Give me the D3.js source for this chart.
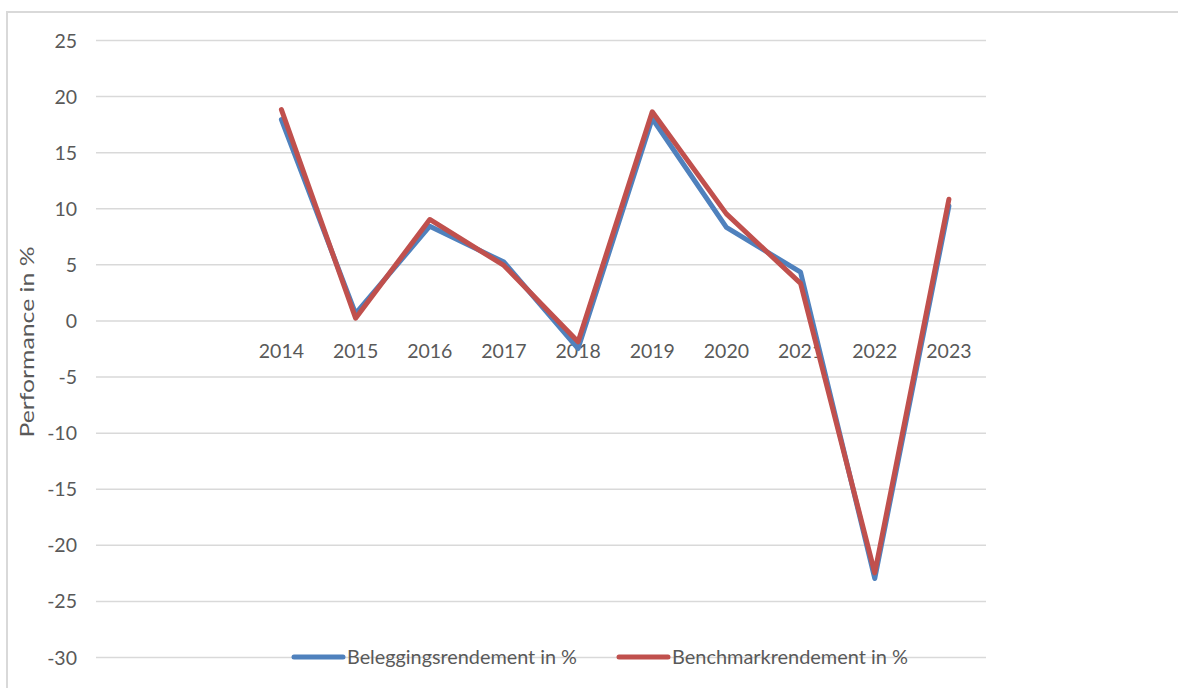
<!DOCTYPE html>
<html>
<head>
<meta charset="utf-8">
<script src="https://cdn.jsdelivr.net/npm/d3@7"></script>
<style>
  html, body { margin: 0; padding: 0; background: #fff; }
  #container { width: 1178px; height: 688px; overflow: hidden; }
  text { font-family: Lato, "Open Sans", sans-serif; fill: #595959; }
</style>
</head>
<body>
<div id="container"></div>
<script>
// data
var years = ["2014", "2015", "2016", "2017", "2018", "2019", "2020", "2021", "2022", "2023"];
var belegging = [17.9, 0.6, 8.4, 5.2, -2.5, 18.0, 8.3, 4.3, -23.0, 10.2];
var benchmark = [18.8, 0.2, 9.0, 4.9, -1.9, 18.6, 9.5, 3.3, -22.5, 10.8];
var seriesNames = ["Beleggingsrendement in %", "Benchmarkrendement in %"];
var yTicks = [25, 20, 15, 10, 5, 0, -5, -10, -15, -20, -25, -30];
var leadingBlanks = 2; // the category axis has two empty slots before 2014

var width = 1178;
var height = 688;
var plotLeft = 96, plotRight = 986;
var colors = ["#4f81bd", "#c0504d"];

var svg = d3.select("#container")
            .append("svg")
            .attr("width", width)
            .attr("height", height);

// chart area border
svg.append("rect")
   .attr("x", 7)
   .attr("y", 12)
   .attr("width", 1300)
   .attr("height", 800)
   .attr("fill", "none")
   .attr("stroke", "#d9d9d9")
   .attr("stroke-width", 2);

var xScale = d3.scaleBand()
               .domain(d3.range(leadingBlanks + years.length))
               .range([plotLeft, plotRight]);

var yScale = d3.scaleLinear()
               .domain([-30, 25])
               .range([657, 40]);

var xPos = function(i) { return xScale(i + leadingBlanks) + xScale.bandwidth() / 2; };

// y axis with gridlines (plain hyphen for negatives, like the original)
var yAxis = d3.axisLeft(yScale)
              .tickValues(yTicks)
              .tickSize(-(plotRight - plotLeft))
              .tickPadding(19)
              .tickFormat(function(d) { return String(d); });

var gy = svg.append("g")
            .attr("id", "y-axis")
            .attr("transform", "translate(" + plotLeft + ",0)")
            .call(yAxis);
gy.select(".domain").remove();
gy.selectAll("line").attr("stroke", "#d9d9d9").attr("stroke-width", 1.5);
gy.selectAll("text")
  .style("font-size", "19.5px")
  .style("fill", "#595959")
  .attr("dy", "0.36em");

// category labels sit just under the zero line
var xAxis = d3.axisBottom(xScale)
              .tickSize(0)
              .tickFormat(function(i) { return i >= leadingBlanks ? years[i - leadingBlanks] : ""; });

var gx = svg.append("g")
            .attr("id", "x-axis")
            .attr("transform", "translate(0," + yScale(0) + ")")
            .call(xAxis);
gx.select(".domain").remove();
gx.selectAll("text")
  .attr("y", 38)
  .attr("dy", 0)
  .style("font-size", "19.5px")
  .style("fill", "#595959");

// axis title
svg.append("text")
   .attr("transform", "translate(33.5," + 342 + ") rotate(-90)")
   .attr("text-anchor", "middle")
   .attr("textLength", 191)
   .attr("lengthAdjust", "spacingAndGlyphs")
   .style("font-size", "19.5px")
   .text("Performance in %");

// lines
var line = d3.line()
             .x(function(d, i) { return xPos(i); })
             .y(function(d) { return yScale(d); });

[belegging, benchmark].forEach(function(values, k) {
  svg.append("path")
     .datum(values)
     .attr("d", line)
     .attr("fill", "none")
     .attr("stroke", colors[k])
     .attr("stroke-width", 5)
     .attr("stroke-linejoin", "round")
     .attr("stroke-linecap", "round");
});

// legend
var legendX = [294, 619];
var legendTextLen = [230, 236];
var legend = svg.append("g").attr("id", "legend");
seriesNames.forEach(function(name, k) {
  legend.append("line")
        .attr("x1", legendX[k])
        .attr("x2", legendX[k] + 49)
        .attr("y1", 657)
        .attr("y2", 657)
        .attr("stroke", colors[k])
        .attr("stroke-width", 5)
        .attr("stroke-linecap", "round");
  legend.append("text")
        .attr("x", legendX[k] + 53)
        .attr("y", 664)
        .attr("textLength", legendTextLen[k])
        .attr("lengthAdjust", "spacingAndGlyphs")
        .style("font-size", "19.5px")
        .text(name);
});
</script>
</body>
</html>
